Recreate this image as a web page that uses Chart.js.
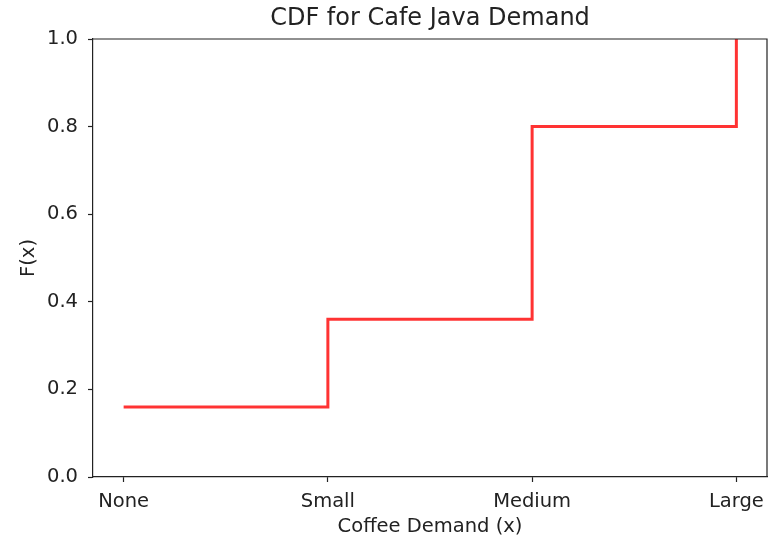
<!DOCTYPE html>
<html>
<head>
<meta charset="utf-8">
<title>CDF for Cafe Java Demand</title>
<script src="https://cdn.jsdelivr.net/npm/chart.js@4"></script>
<style>
    html, body { margin: 0; padding: 0; background: #fff; }
    canvas { display: block; }
</style>
</head>
<body>
<canvas id="cdf-chart" width="779" height="541"></canvas>
<script>
(function () {
    'use strict';

    // --- Data ---
    const categories = ['None', 'Small', 'Medium', 'Large'];
    const cdfValues = [0.16, 0.36, 0.80, 1.0];
    const yTicks = [0, 0.2, 0.4, 0.6, 0.8, 1.0];
    const chartTitle = 'CDF for Cafe Java Demand';

    const INK = '#222';
    const FONT = 'DejaVu Sans';

    const points = categories.map((c, i) => ({ x: i, y: cdfValues[i] }));

    // Closes the frame on top and right, and centres the title over the plot area
    const frame = {
        id: 'frame',
        afterDraw(chart) {
            const { ctx, chartArea: a } = chart;
            ctx.save();
            ctx.strokeStyle = INK;
            ctx.lineWidth = 1.2;
            ctx.beginPath();
            ctx.moveTo(a.left, a.top);
            ctx.lineTo(a.right, a.top);
            ctx.lineTo(a.right, a.bottom);
            ctx.stroke();

            ctx.fillStyle = INK;
            ctx.font = '24px "' + FONT + '"';
            ctx.textAlign = 'center';
            ctx.textBaseline = 'middle';
            ctx.fillText(chartTitle, (a.left + a.right) / 2, 19);
            ctx.restore();
        },
    };

    Chart.defaults.font.family = FONT;
    Chart.defaults.color = INK;

    new Chart(document.getElementById('cdf-chart'), {
        type: 'line',
        data: {
            datasets: [{
                data: points,
                stepped: true,
                borderColor: 'rgba(255, 0, 0, 0.8)',
                borderWidth: 3,
                pointRadius: 0,
                fill: false,
            }],
        },
        options: {
            responsive: false,
            animation: false,
            layout: { padding: { left: 0, right: 12, top: 39, bottom: 0 } },
            plugins: {
                legend: { display: false },
                tooltip: { enabled: false },
                title: { display: false },
            },
            scales: {
                x: {
                    type: 'linear',
                    min: -0.15,
                    max: 3.15,
                    afterBuildTicks: (scale) => {
                        scale.ticks = categories.map((c, i) => ({ value: i }));
                    },
                    afterFit: (scale) => { scale.height = 64; },
                    ticks: {
                        callback: (v) => categories[v],
                        font: { size: 19.5 },
                        color: INK,
                        padding: 8,
                        maxRotation: 0,
                        autoSkip: false,
                    },
                    grid: { drawOnChartArea: false, tickLength: 5, color: INK, tickWidth: 1.2 },
                    border: { color: INK, width: 1.2 },
                    title: {
                        display: true,
                        text: 'Coffee Demand (x)',
                        color: INK,
                        font: { size: 19.5 },
                        padding: { top: 0, bottom: 2 },
                    },
                },
                y: {
                    min: 0,
                    max: 1,
                    afterBuildTicks: (scale) => {
                        scale.ticks = yTicks.map(v => ({ value: v }));
                    },
                    afterFit: (scale) => { scale.width = 93; },
                    ticks: {
                        callback: (v) => v.toFixed(1),
                        font: { size: 19.5 },
                        color: INK,
                        padding: 10,
                    },
                    grid: { drawOnChartArea: false, tickLength: 5, color: INK, tickWidth: 1.2 },
                    border: { color: INK, width: 1.2 },
                    title: {
                        display: true,
                        text: 'F(x)',
                        color: INK,
                        font: { size: 19.5 },
                        padding: { top: 17, bottom: 0 },
                    },
                },
            },
        },
        plugins: [frame],
    });
})();
</script>
</body>
</html>
